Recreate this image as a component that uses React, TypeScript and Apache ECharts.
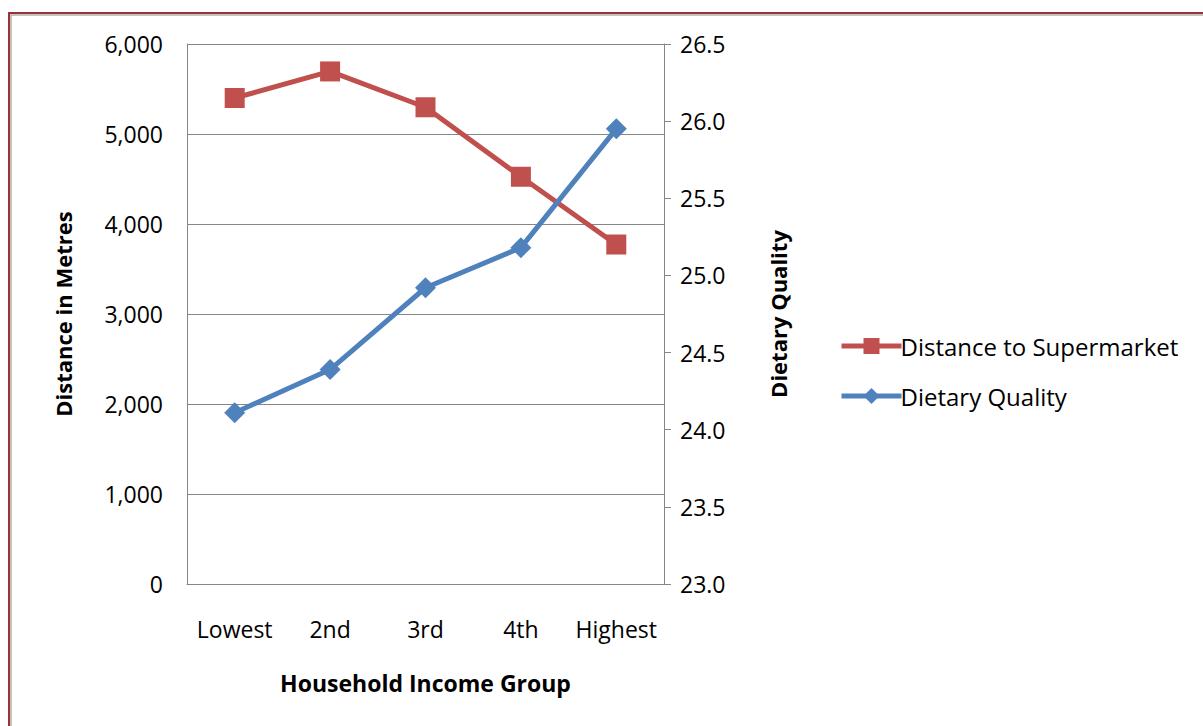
import React, { useEffect, useRef } from "react";
import * as echarts from "echarts";

const categories = ["Lowest", "2nd", "3rd", "4th", "Highest"];
const distanceValues = [5400, 5695, 5297, 4525, 3772];
const dietaryValues = [24.11, 24.39, 24.92, 25.18, 25.95];

const FONT = "'Open Sans', sans-serif";

export default function App() {
  const ref = useRef<HTMLDivElement>(null);
  useEffect(() => {
    if (!ref.current) return;
    const chart = echarts.init(ref.current, undefined, { renderer: "svg" });
    chart.setOption({
      animation: false,
      backgroundColor: "#ffffff",
      textStyle: { fontFamily: FONT, color: "#000" },
      graphic: [
        {
          type: "rect",
          shape: { x: 9, y: 13, width: 1300, height: 800 },
          style: { fill: "none", stroke: "#993333", lineWidth: 2 },
          silent: true,
        },
        {
          type: "rect",
          shape: { x: 11, y: 15, width: 1300, height: 800 },
          style: { fill: "none", stroke: "#b0b0b0", lineWidth: 1.5 },
          silent: true,
        },
      ],
      legend: {
        orient: "vertical",
        left: 834,
        top: 329,
        itemWidth: 60,
        itemHeight: 20,
        itemGap: 26,
        lineStyle: { width: 5 },
        textStyle: { fontFamily: FONT, fontSize: 24, color: "#000", padding: [0, 0, 0, -6] },
        data: ["Distance to Supermarket", "Dietary Quality"],
      },
      grid: { left: 187, right: 539, top: 44, bottom: 142, containLabel: false },
      xAxis: {
        type: "category",
        data: categories,
        boundaryGap: true,
        name: "Household Income Group",
        nameLocation: "middle",
        nameGap: 87,
        nameTextStyle: { fontFamily: FONT, fontSize: 23, fontWeight: "bold", color: "#000" },
        axisLine: { lineStyle: { color: "#868686", width: 1 } },
        axisTick: { show: false },
        axisLabel: { interval: 0, margin: 33, fontSize: 23, color: "#000", fontFamily: FONT },
      },
      yAxis: [
        {
          type: "value",
          min: 0,
          max: 6000,
          interval: 1000,
          name: "Distance in Metres",
          nameLocation: "middle",
          nameRotate: 90,
          nameGap: 113,
          nameTextStyle: { fontFamily: FONT, fontSize: 22, fontWeight: "bold", color: "#000" },
          axisLine: { show: true, lineStyle: { color: "#868686", width: 1 } },
          axisTick: { show: false },
          axisLabel: {
            margin: 24,
            fontSize: 23,
            color: "#000",
            fontFamily: FONT,
            formatter: (v: number) => v.toLocaleString("en-US"),
          },
          splitLine: { show: true, lineStyle: { color: "#868686", width: 1 } },
        },
        {
          type: "value",
          min: 23,
          max: 26.5,
          interval: 0.5,
          position: "right",
          name: "Dietary Quality",
          nameLocation: "middle",
          nameRotate: 90,
          nameGap: 103,
          nameTextStyle: { fontFamily: FONT, fontSize: 22, fontWeight: "bold", color: "#000" },
          axisLine: { show: true, lineStyle: { color: "#868686", width: 1 } },
          axisTick: { show: true, length: 7, lineStyle: { color: "#868686" } },
          axisLabel: {
            margin: 16,
            fontSize: 23,
            color: "#000",
            fontFamily: FONT,
            formatter: (v: number) => v.toFixed(1),
          },
          splitLine: { show: false },
        },
      ],
      series: [
        {
          name: "Distance to Supermarket",
          type: "line",
          yAxisIndex: 0,
          data: distanceValues,
          symbol: "rect",
          symbolSize: 20,
          lineStyle: { color: "#C0504D", width: 5 },
          itemStyle: { color: "#C0504D" },
        },
        {
          name: "Dietary Quality",
          type: "line",
          yAxisIndex: 1,
          data: dietaryValues,
          symbol: "diamond",
          symbolSize: [21, 21],
          lineStyle: { color: "#4F81BD", width: 5 },
          itemStyle: { color: "#4F81BD" },
        },
      ],
    });
    return () => chart.dispose();
  }, []);
  return (
    <div
      ref={ref}
      style={{ position: "fixed", left: 0, top: 0, width: 1203, height: 726, background: "#fff" }}
    />
  );
}
